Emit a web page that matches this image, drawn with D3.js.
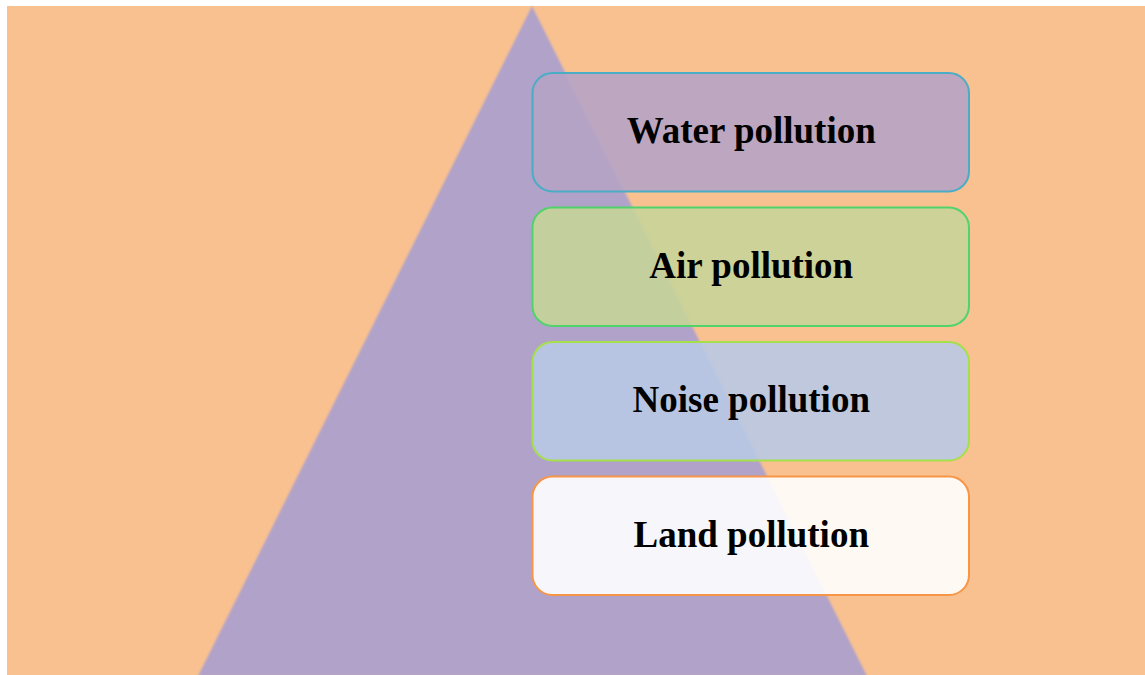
<!DOCTYPE html>
<html>
<head>
<meta charset="utf-8">
<script src="https://cdn.jsdelivr.net/npm/d3@7"></script>
<style>
  body { margin: 0; background: #ffffff; }
  svg { display: block; }
</style>
</head>
<body>
<svg id="chart"></svg>
<script>
const width = 1145, height = 675;

// levels, top to bottom
const categories = ["Water pollution", "Air pollution", "Noise pollution", "Land pollution"];
const fills = ["#b6a3c4", "#c7d499", "#b8c9e4", "#ffffff"];
const strokes = ["#4bacc6", "#4fd36a", "#a5e04a", "#f79646"];

const svg = d3.select("#chart")
    .attr("width", width)
    .attr("height", height);

// background
svg.append("rect")
    .attr("x", 7)
    .attr("y", 6)
    .attr("width", width - 7)
    .attr("height", height - 6)
    .attr("fill", "#f9c190");

// soft edge for the pyramid
const defs = svg.append("defs");
const blur = defs.append("filter").attr("id", "soft")
    .attr("x", "-5%").attr("y", "-5%").attr("width", "110%").attr("height", "110%");
blur.append("feGaussianBlur").attr("stdDeviation", 0.8);

// pyramid
const apex = [532, 6];
const tri = [apex, [198, height + 1], [867, height + 1]];
svg.append("path")
    .attr("d", d3.line()(tri) + "Z")
    .attr("fill", "#b1a2c9")
    .attr("filter", "url(#soft)");

// boxes
const y = d3.scaleBand()
    .domain(categories)
    .range([73, 595])
    .paddingInner(0.12);

const boxX = 532.5, boxW = 436.5;

const g = svg.append("g");

g.selectAll("rect.level")
    .data(categories)
    .join("rect")
    .attr("class", "level")
    .attr("x", boxX)
    .attr("y", d => y(d))
    .attr("width", boxW)
    .attr("height", y.bandwidth())
    .attr("rx", 20)
    .attr("ry", 20)
    .attr("fill", (d, i) => fills[i])
    .attr("fill-opacity", 0.9)
    .attr("stroke", (d, i) => strokes[i])
    .attr("stroke-width", 2);

g.selectAll("text.label")
    .data(categories)
    .join("text")
    .attr("class", "label")
    .attr("x", boxX + boxW / 2 + 0.5)
    .attr("y", d => y(d) + y.bandwidth() / 2 + 11)
    .attr("text-anchor", "middle")
    .attr("font-family", "'Liberation Serif', 'Times New Roman', serif")
    .attr("font-weight", "bold")
    .attr("font-size", "37px")
    .attr("fill", "#000")
    .text(d => d);
</script>
</body>
</html>
